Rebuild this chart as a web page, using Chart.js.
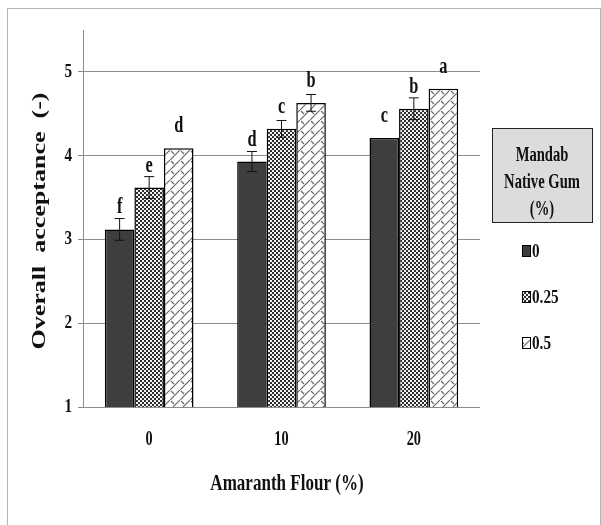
<!DOCTYPE html>
<html><head><meta charset="utf-8">
<script src="https://cdn.jsdelivr.net/npm/chart.js@4.4.1/dist/chart.umd.min.js"></script>
<style>
html,body{margin:0;padding:0;background:#fff;}
#wrap{position:relative;width:601px;height:525px;overflow:hidden;}
#frame{position:absolute;left:7px;top:8px;width:594px;height:600px;border:1px solid #b4b4b4;box-sizing:border-box;pointer-events:none;}
canvas{position:absolute;left:0;top:0;}
</style></head><body>
<div id="wrap"><canvas id="c" width="601" height="525"></canvas><div id="frame"></div></div>
<script>
// ---- data ----
const categories = ['0', '10', '20'];
const seriesLabels = ['0', '0.25', '0.5'];
const gum0   = [3.12, 3.93, 4.21];
const gum025 = [3.62, 4.32, 4.56];
const gum05  = [4.09, 4.63, 4.80];
const err0   = [0.13, 0.12, 0];
const err025 = [0.13, 0.10, 0.13];
const err05  = [0, 0.10, 0];
const letters0   = ['f', 'd', 'c'];
const letters025 = ['e', 'c', 'b'];
const letters05  = ['d', 'b', 'a'];
const yTicks = [1, 2, 3, 4, 5];
const yTitle = 'Overall  acceptance  (-)';
const xTitle = 'Amaranth Flour (%)';
const legendTitle = ['Mandab', 'Native Gum', '(%)'];

const errors = [err0, err025, err05];
const letters = [letters0, letters025, letters05];

const canvas = document.getElementById('c');
const ctx0 = canvas.getContext('2d');
function makePattern(w, h, draw) {
  const c = document.createElement('canvas');
  c.width = w; c.height = h;
  const g = c.getContext('2d');
  draw(g);
  return ctx0.createPattern(c, 'repeat');
}
const checkPattern = makePattern(4, 4, g => {
  g.fillStyle = '#f2f2f2'; g.fillRect(0, 0, 4, 4);
  g.fillStyle = '#2e2e2e'; g.fillRect(0, 0, 2, 2); g.fillRect(2, 2, 2, 2);
});
const hatchPattern = makePattern(10, 10, g => {
  g.fillStyle = '#ffffff'; g.fillRect(0, 0, 10, 10);
  g.strokeStyle = '#6a6a6a'; g.lineWidth = 1.2;
  g.beginPath();
  g.moveTo(-1, 11); g.lineTo(11, -1);
  g.moveTo(1, 1); g.lineTo(4, 4);
  g.stroke();
});

const FONT = '"Liberation Serif", "Times New Roman", serif';
function condText(ctx, txt, x, y, size, sx, align, baseline, rot) {
  ctx.save();
  ctx.translate(x, y);
  if (rot) ctx.rotate(rot);
  ctx.scale(sx, 1);
  ctx.font = 'bold ' + size + 'px ' + FONT;
  ctx.textAlign = align;
  ctx.textBaseline = baseline;
  ctx.fillStyle = '#111';
  ctx.fillText(txt, 0, 0);
  ctx.restore();
}

const annotate = {
  id: 'annotate',
  afterDatasetsDraw(chart) {
    const ctx = chart.ctx;
    const y = chart.scales.y, x = chart.scales.x;
    chart.data.datasets.forEach((ds, i) => {
      const meta = chart.getDatasetMeta(i);
      meta.data.forEach((bar, j) => {
        const v = ds.data[j], e = errors[i][j];
        const top = y.getPixelForValue(v);
        let errPx = 0;
        if (e > 0) {
          const yt = y.getPixelForValue(v + e), yb = y.getPixelForValue(v - e);
          errPx = top - yt;
          ctx.save();
          ctx.strokeStyle = '#111'; ctx.lineWidth = 1;
          ctx.beginPath();
          ctx.moveTo(bar.x, yt); ctx.lineTo(bar.x, yb);
          ctx.moveTo(bar.x - 5, yt); ctx.lineTo(bar.x + 5, yt);
          ctx.moveTo(bar.x - 5, yb); ctx.lineTo(bar.x + 5, yb);
          ctx.stroke();
          ctx.restore();
        }
        const off = Math.max(errPx + 5, 16);
        condText(ctx, letters[i][j], bar.x, top - off, 24, 0.68, 'center', 'alphabetic');
      });
    });
  },
  afterDraw(chart) {
    const ctx = chart.ctx;
    const y = chart.scales.y, x = chart.scales.x;
    // y tick labels
    yTicks.forEach(v => {
      condText(ctx, String(v), 72, y.getPixelForValue(v) + 5, 19, 0.8, 'right', 'alphabetic');
    });
    // x tick labels
    categories.forEach((c, i) => {
      condText(ctx, c, x.getPixelForValue(i), 445, 21, 0.68, 'center', 'alphabetic');
    });
    // x title
    condText(ctx, xTitle, 287, 490, 24, 0.71, 'center', 'alphabetic');
    // y title (rotated, elongated)
    ctx.save();
    ctx.font = 'bold 18px ' + FONT;
    const natural = ctx.measureText(yTitle).width;
    ctx.restore();
    condText(ctx, yTitle, 45, 221, 18, 257 / natural, 'center', 'alphabetic', -Math.PI / 2);
    // legend box
    ctx.save();
    ctx.fillStyle = '#dcdcdc';
    ctx.fillRect(492.5, 128.5, 100, 94);
    ctx.strokeStyle = '#222'; ctx.lineWidth = 1;
    ctx.strokeRect(492.5, 128.5, 100, 94);
    ctx.restore();
    const lb = [161, 188, 215];
    legendTitle.forEach((t, i) => condText(ctx, t, 542, lb[i], 20, 0.73, 'center', 'alphabetic'));
    const ib = [257, 303, 349];
    chart.data.datasets.forEach((ds, i) => {
      ctx.save();
      ctx.fillStyle = ds.backgroundColor;
      ctx.fillRect(522.5, ib[i] - 11.5, 8, 11);
      ctx.strokeStyle = '#000'; ctx.lineWidth = 1;
      ctx.strokeRect(522.5, ib[i] - 11.5, 8, 11);
      ctx.restore();
      condText(ctx, ds.label, 532, ib[i], 19, 0.8, 'left', 'alphabetic');
    });
  }
};

new Chart(canvas, {
  type: 'bar',
  data: {
    labels: categories,
    datasets: [
      { label: seriesLabels[0], data: gum0, backgroundColor: '#3e3e3e', borderColor: '#000', borderWidth: 1.5, borderSkipped: false },
      { label: seriesLabels[1], data: gum025, backgroundColor: checkPattern, borderColor: '#000', borderWidth: 1.5, borderSkipped: false },
      { label: seriesLabels[2], data: gum05, backgroundColor: hatchPattern, borderColor: '#000', borderWidth: 1.5, borderSkipped: false }
    ]
  },
  options: {
    responsive: false,
    animation: false,
    devicePixelRatio: 1,
    layout: { padding: { top: 30, right: 121, left: 0, bottom: 0 } },
    plugins: { legend: { display: false }, tooltip: { enabled: false } },
    datasets: { bar: { categoryPercentage: 0.67, barPercentage: 1 } },
    scales: {
      x: {
        grid: { display: false },
        border: { display: false },
        ticks: { display: false },
        afterFit(s) { s.height = 118; }
      },
      y: {
        min: 1, max: 5.5,
        afterBuildTicks(s) { s.ticks = yTicks.map(v => ({ value: v })); },
        ticks: { display: false },
        grid: { color: '#8c8c8c', tickLength: 5, lineWidth: 1 },
        border: { color: '#8c8c8c' },
        afterFit(s) { s.width = 83; }
      }
    }
  },
  plugins: [annotate]
});
</script>
</body></html>
